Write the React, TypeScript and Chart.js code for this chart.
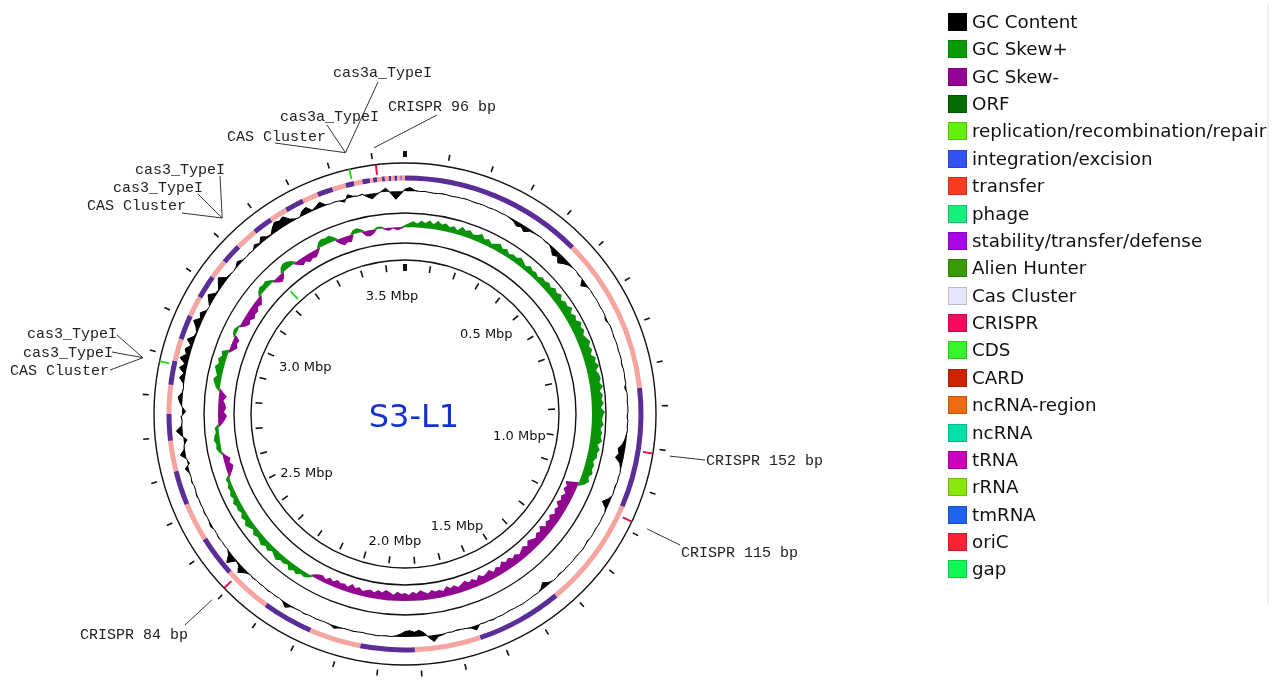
import React, { useEffect, useRef } from 'react';
import { Chart, registerables } from 'chart.js';

Chart.register(...registerables);

// ------------------------------------------------------------------ data
const genomeLengthKb = 3675;
const windowKb = 12.5;
const mapTitle = 'S3-L1';

// GC content deviation from genome mean (%), one value per 12.5 kb window
const gcContentDeviation = [
  1, 2, 0.5, 0, 0.25, 0, -0.25, 0, 0.25, 0,
  -0.25, 0, 0, 0.25, 0, -0.25, 0, 0, -0.25, 0,
  0, -0.25, 0, -0.5, -1, -2.5, -1.5, -3, -1, -0.5,
  -0.25, 0, -0.5, -0.25, -1.5, -3.5, -2, -4.5, -2.5, -1,
  -0.25, 0, -0.5, 0, -3, -0.5, 0, -0.25, 0, 0,
  -0.25, 0, 0, -1, 0, 0.25, 0, -0.25, 0, 0,
  -0.25, 0, 0, -0.5, 0, 0, -0.25, 0, -1, 0,
  0, -0.25, 0, 0, -0.5, 0, -0.25, 0, -0.5, -1,
  -2, -4, -3, -4.5, -1.5, -0.5, 0, -0.25, 0, -0.5,
  -0.25, 0, -1.5, -4, -1, 0, -0.25, 0, 0, -0.25,
  0, 0, -0.5, 0, 0.25, 0, -0.25, 0, 0, -0.25,
  0, -0.5, 0, 0, -1, -3, -1, 0, -0.25, 0,
  0, 0.25, 0, 0, -0.25, 0, 0.25, 0, 0.5, 0,
  0.25, 0, 2.5, 0.5, 0, -0.25, -0.5, 0, -0.25, 0.5,
  1, 3.5, 1, -2, -3.5, -2.5, -3.5, -3, -1.5, -0.5,
  0, -0.25, 0, 0.25, 0, 0, -0.25, 0, 0.25, 0,
  0, 0.5, 1.5, 0.25, 0, 0, 0.25, 0, 0, 0.5,
  0, 0.25, 0.5, 2.5, 0.5, 0, 0.25, 0, 0.5, 0,
  0.25, 0, 0.5, 0, 1.5, 4, 1, 0.5, 5, 1.5,
  0, 0.25, 0, 0.5, 0, 0, 1, 0.25, 0, 0.5,
  0, 0.25, 0, 0.5, 0, -0.25, 0.5, 0, 0.25, 2,
  -1, 0, 3, 0.5, 0, -2, 1, 3.5, 0.5, 0,
  0.5, -2, 0, 1.5, 2.5, 0.5, 0, 0.5, 3, 1,
  4, 1.5, 5, 2, 3.5, 1, 4, 1, 0.5, 2,
  4.5, 1.5, 3, 0.5, 0, 2, 4, 1, 0.5, 2.5,
  4.5, 1, 0.5, 0, 0.5, 2, 0.5, 0, 0.5, 0,
  2, 0.5, 3, 1, 0.5, 3, 5, 4, 5, 2,
  0.5, 0, 2.5, 3.5, 0.5, 1.5, 3, 0.5, 0, 0.25,
  0, -1.5, 2, 0.5, 0, 0.5, -1.5, -3, -1, 0.5,
  2, -1, -4.5, -2,
];

// GC skew per 12.5 kb window
const gcSkew = [
  0.02, 0.04, 0.06, 0.04, 0.07, 0.05, 0.08, 0.05, 0.09, 0.06,
  0.08, 0.05, 0.07, 0.04, 0.09, 0.06, 0.08, 0.05, 0.06, 0.09,
  0.05, 0.07, 0.04, 0.06, 0.08, 0.05, 0.07, 0.04, 0.06, 0.05,
  0.08, 0.06, 0.04, 0.07, 0.05, 0.06, 0.04, 0.07, 0.06, 0.08,
  0.06, 0.09, 0.07, 0.10, 0.06, 0.09, 0.08, 0.11, 0.07, 0.10,
  0.08, 0.12, 0.09, 0.11, 0.08, 0.10, 0.12, 0.09, 0.11, 0.08,
  0.12, 0.10, 0.13, 0.09, 0.11, 0.12, 0.10, 0.13, 0.09, 0.12,
  0.10, 0.12, 0.09, 0.13, 0.11, 0.10, 0.12, 0.09, 0.11, 0.10,
  0.12, 0.08, 0.11, 0.09, 0.10, 0.07, 0.09, 0.08, 0.10, 0.07,
  0.09, 0.06, -0.13, -0.10, -0.12, -0.08, -0.11, -0.09, -0.12, -0.08,
  -0.10, -0.07, -0.11, -0.08, -0.10, -0.07, -0.12, -0.08, -0.10, -0.07,
  -0.09, -0.11, -0.07, -0.10, -0.08, -0.06, -0.09, -0.07, -0.10, -0.08,
  -0.11, -0.07, -0.09, -0.06, -0.10, -0.08, -0.07, -0.10, -0.06, -0.09,
  -0.07, -0.10, -0.08, -0.06, -0.09, -0.07, -0.10, -0.06, -0.08, -0.07,
  -0.09, -0.06, -0.08, -0.10, -0.07, -0.09, -0.06, -0.08, -0.07, -0.09,
  -0.06, -0.08, -0.10, -0.07, -0.09, -0.06, -0.08, -0.07, -0.05, -0.08,
  -0.06, -0.09, -0.05, -0.07, -0.06, -0.08, -0.05, -0.07, -0.04, -0.06,
  -0.05, -0.03, 0.03, 0.05, 0.04, 0.07, 0.05, 0.08, 0.04, 0.06,
  0.05, 0.08, 0.06, 0.04, 0.07, 0.05, 0.08, 0.06, 0.05, 0.07,
  0.04, 0.06, 0.08, 0.05, 0.07, 0.04, 0.06, 0.05, 0.07, 0.04,
  0.06, 0.04, 0.05, 0.03, 0.04, -0.03, -0.06, -0.08, -0.05, -0.07,
  -0.03, 0.03, 0.05, 0.04, 0.06, 0.05, 0.03, 0.04, -0.04, -0.07,
  -0.09, -0.06, -0.08, -0.07, -0.05, -0.08, -0.04, 0.04, 0.06, 0.08,
  0.05, 0.07, 0.09, 0.06, 0.08, 0.05, 0.07, -0.04, -0.07, -0.05,
  -0.06, 0.03, 0.04, 0.02, -0.05, -0.08, -0.06, -0.09, -0.07, -0.08,
  -0.05, -0.07, -0.04, 0.04, 0.06, 0.05, 0.06, 0.03, -0.04, -0.07,
  -0.05, 0.05, 0.07, 0.06, 0.04, -0.04, -0.07, -0.05, -0.08, -0.06,
  -0.07, -0.04, 0.05, 0.07, 0.06, 0.07, 0.04, -0.05, -0.08, -0.06,
  -0.07, 0.04, 0.05, 0.03, -0.05, -0.06, -0.04, 0.02, 0.02, -0.02,
  -0.03, -0.01, -0.03, -0.02,
];

// contig ends (kb) along the backbone, starting at 0
const contigEndsKb = [
  461, 854, 1154, 1432, 1648, 1813, 1949, 2079, 2206, 2327,
  2430, 2527, 2613, 2690, 2756, 2829, 2889, 2945, 3007, 3059,
  3118, 3166, 3217, 3272, 3322, 3367, 3414, 3454, 3493, 3527,
  3548, 3569, 3588, 3596, 3606, 3618, 3625, 3635, 3641, 3649,
  3656, 3664, 3667, 3675,
];

const scaleTicksMbp = [
  0, 0.1, 0.2, 0.3, 0.4, 0.5, 0.6, 0.7, 0.8, 0.9,
  1.0, 1.1, 1.2, 1.3, 1.4, 1.5, 1.6, 1.7, 1.8, 1.9,
  2.0, 2.1, 2.2, 2.3, 2.4, 2.5, 2.6, 2.7, 2.8, 2.9,
  3.0, 3.1, 3.2, 3.3, 3.4, 3.5, 3.6,
];
const scaleLabelPositionsMbp = [0.5, 1.0, 1.5, 2.0, 2.5, 3.0, 3.5];
const scaleLabels = ['0.5 Mbp', '1.0 Mbp', '1.5 Mbp', '2.0 Mbp', '2.5 Mbp', '3.0 Mbp', '3.5 Mbp'];

const crisprNames = ['CRISPR 152 bp', 'CRISPR 115 bp', 'CRISPR 84 bp', 'CRISPR 96 bp'];
const crisprPositionsKb = [1011, 1178, 2308, 3607];

const casClusterPositionsKb = [2880, 3236, 3544];
const casClusterTracks = ['outer', 'inner', 'outer'];
const casClusterGenes = [
  ['cas3_TypeI', 'cas3_TypeI', 'CAS Cluster'],
  ['cas3_TypeI', 'cas3_TypeI', 'CAS Cluster'],
  ['cas3a_TypeI', 'cas3a_TypeI', 'CAS Cluster'],
];

const legendLabels = [
  'GC Content', 'GC Skew+', 'GC Skew-', 'ORF', 'replication/recombination/repair',
  'integration/excision', 'transfer', 'phage', 'stability/transfer/defense', 'Alien Hunter',
  'Cas Cluster', 'CRISPR', 'CDS', 'CARD', 'ncRNA-region', 'ncRNA', 'tRNA', 'rRNA', 'tmRNA',
  'oriC', 'gap',
];
const legendColors = [
  '#000000', '#079a07', '#960596', '#036c03', '#63f00d',
  '#3352f5', '#fa3a22', '#16f07c', '#a805e8', '#3a9a06',
  '#e6e6fa', '#f40a5f', '#36f52a', '#d02200', '#ec6b13', '#00e0a8', '#cc00bb', '#89e60b', '#1d63ee',
  '#fa2235', '#10f855',
];

// ------------------------------------------------------------------ layout / style
const CANVAS_W = 1279;
const CANVAS_H = 681;
const CENTER_X = 405;
const CENTER_Y = 414;
const RADIUS = 266;
const layoutPadding = {
  left: CENTER_X - RADIUS,
  right: CANVAS_W - CENTER_X - RADIUS,
  top: CENTER_Y - RADIUS,
  bottom: CANVAS_H - CENTER_Y - RADIUS,
};
const CLEAR = 'rgba(0,0,0,0)';
const PURPLE = '#5a2e96';
const SALMON = '#f6a4a0';
const CRISPR_COLOR = '#e0134a';
const CAS_COLOR = '#2fd62f';
const GC_BASE = 223;
const GC_SCALE = 1.8;
const SKEW_BASE = 187;
const SKEW_SCALE = 100;
const CIRCLE_RADII = [154, 171, 201, 251];
const LABEL_R = 140;
const LABEL_DX = 2;
const LABEL_DY = 5;
const LABEL_SHIFT = 12;
const ANCHOR_R = 268;

const crisprLabelLayout = [
  { x: 706, y: 461, lx: 705, ly: 460 },
  { x: 681, y: 553, lx: 680, ly: 545 },
  { x: 80, y: 635, lx: 185, ly: 625 },
  { x: 388, y: 107, lx: 437, ly: 115 },
];
const casLabelLayout = [
  [{ x: 27, y: 334, lx: 117, ly: 335 }, { x: 23, y: 353, lx: 112, ly: 352 }, { x: 10, y: 371, lx: 110, ly: 370 }],
  [{ x: 135, y: 170, lx: 220, ly: 176 }, { x: 113, y: 188, lx: 198, ly: 194 }, { x: 87, y: 206, lx: 182, ly: 213 }],
  [{ x: 333, y: 73, lx: 378, ly: 82 }, { x: 280, y: 117, lx: 327, ly: 125 }, { x: 227, y: 137, lx: 275, ly: 143 }],
];

// ------------------------------------------------------------------ helpers
type Piece = { start: number; end: number; color: string };

function kbPerPx(r: number) {
  return genomeLengthKb / (2 * Math.PI * r);
}

function markPieces(centerKb: number, widthKb: number, color: string): Piece[] {
  const s = centerKb - widthKb / 2;
  const e = centerKb + widthKb / 2;
  if (s < 0) return [{ start: 0, end: e, color }, { start: genomeLengthKb + s, end: genomeLengthKb, color }];
  if (e > genomeLengthKb) return [{ start: s, end: genomeLengthKb, color }, { start: 0, end: e - genomeLengthKb, color }];
  return [{ start: s, end: e, color }];
}

function buildRing(pieces: Piece[]) {
  const sorted = [...pieces].sort((a, b) => a.start - b.start);
  const data: number[] = [];
  const colors: string[] = [];
  let cur = 0;
  for (const p of sorted) {
    if (p.start > cur) {
      data.push(p.start - cur);
      colors.push(CLEAR);
    }
    const from = Math.max(p.start, cur);
    if (p.end > from) {
      data.push(p.end - from);
      colors.push(p.color);
      cur = p.end;
    }
  }
  if (cur < genomeLengthKb) {
    data.push(genomeLengthKb - cur);
    colors.push(CLEAR);
  }
  return { data, colors };
}

function tickPieces(r: number): Piece[] {
  const out: Piece[] = [];
  scaleTicksMbp.forEach((mbp) => {
    const w = (mbp === 0 ? 4 : 1.6) * kbPerPx(r);
    out.push(...markPieces(mbp * 1000, w, '#111'));
  });
  return out;
}

function contigPieces(): Piece[] {
  let start = 0;
  return contigEndsKb.map((end, i) => {
    const p = { start, end, color: i % 2 === 0 ? PURPLE : SALMON };
    start = end;
    return p;
  });
}

function featurePieces(track: string, r: number): Piece[] {
  const out: Piece[] = [];
  const w = 2 * kbPerPx(r);
  if (track === 'outer') {
    crisprPositionsKb.forEach((kb) => out.push(...markPieces(kb, w, CRISPR_COLOR)));
  }
  casClusterPositionsKb.forEach((kb, i) => {
    if (casClusterTracks[i] === track) out.push(...markPieces(kb, w, CAS_COLOR));
  });
  return out;
}

function doughnutConfig() {
  const rings = [
    { outer: 263, inner: 257, pieces: tickPieces(260) },
    { outer: 251, inner: 241, pieces: featurePieces('outer', 246) },
    { outer: 238.5, inner: 233.5, pieces: contigPieces() },
    { outer: 168, inner: 157, pieces: featurePieces('inner', 162) },
    { outer: 150, inner: 143, pieces: tickPieces(146.5) },
  ];
  const datasets: any[] = [];
  let prev = RADIUS;
  for (const ring of rings) {
    if (prev - ring.outer > 0.01) {
      datasets.push({ data: [1], backgroundColor: [CLEAR], weight: prev - ring.outer, borderWidth: 0, hoverBorderWidth: 0, hoverOffset: 0 });
    }
    const { data, colors } = buildRing(ring.pieces);
    datasets.push({ data, backgroundColor: colors, weight: ring.outer - ring.inner, borderWidth: 0, hoverBorderWidth: 0, hoverOffset: 0 });
    prev = ring.inner;
  }
  return { datasets, cutout: prev };
}

const angleOf = (kb: number) => (kb / genomeLengthKb) * Math.PI * 2;

const textPlugin = {
  id: 'genomeText',
  afterDraw(chart: any) {
    const ctx = chart.ctx;
    const area = chart.chartArea;
    const cx = (area.left + area.right) / 2;
    const cy = (area.top + area.bottom) / 2;
    ctx.save();

    // scale labels
    ctx.font = '13px "DejaVu Sans"';
    ctx.fillStyle = '#111';
    ctx.textBaseline = 'middle';
    scaleLabelPositionsMbp.forEach((mbp, i) => {
      const a = angleOf(mbp * 1000);
      const s = Math.sin(a);
      const c = Math.cos(a);
      ctx.textAlign = s > 0 ? 'right' : 'left';
      ctx.fillText(scaleLabels[i], cx + LABEL_DX + s * LABEL_R, cy + LABEL_DY - c * LABEL_R + c * LABEL_SHIFT);
    });

    // title
    ctx.font = '32px "DejaVu Sans"';
    ctx.fillStyle = '#1433cc';
    ctx.textAlign = 'center';
    ctx.fillText(mapTitle, cx + 9, cy + 5);

    // annotations
    const anchor = (kb: number) => {
      const a = angleOf(kb);
      return { x: cx + Math.sin(a) * ANCHOR_R, y: cy - Math.cos(a) * ANCHOR_R };
    };
    ctx.strokeStyle = '#333';
    ctx.lineWidth = 1;
    crisprPositionsKb.forEach((kb, i) => {
      const p = anchor(kb);
      const l = crisprLabelLayout[i];
      ctx.beginPath();
      ctx.moveTo(l.lx, l.ly);
      ctx.lineTo(p.x, p.y);
      ctx.stroke();
    });
    casClusterPositionsKb.forEach((kb, i) => {
      const p = anchor(kb);
      casLabelLayout[i].forEach((l) => {
        ctx.beginPath();
        ctx.moveTo(l.lx, l.ly);
        ctx.lineTo(p.x, p.y);
        ctx.stroke();
      });
    });
    ctx.font = '15px "Liberation Mono"';
    ctx.fillStyle = '#222';
    ctx.textAlign = 'left';
    ctx.textBaseline = 'middle';
    crisprNames.forEach((name, i) => {
      const l = crisprLabelLayout[i];
      ctx.fillText(name, l.x, l.y);
    });
    casClusterGenes.forEach((genes, i) => {
      genes.forEach((g, j) => {
        const l = casLabelLayout[i][j];
        ctx.fillText(g, l.x, l.y);
      });
    });
    ctx.restore();
  },
};

// ------------------------------------------------------------------ component
export default function App() {
  const radarRef = useRef<HTMLCanvasElement | null>(null);
  const ringRef = useRef<HTMLCanvasElement | null>(null);

  useEffect(() => {
    const windowLabels = gcContentDeviation.map((_, i) => i * windowKb);
    const radar = new Chart(radarRef.current as HTMLCanvasElement, {
      type: 'radar',
      data: {
        labels: windowLabels,
        datasets: [
          {
            label: 'GC Content',
            data: gcContentDeviation.map((v) => GC_BASE + v * GC_SCALE),
            borderColor: '#000',
            backgroundColor: '#000',
            borderWidth: 1,
            fill: { value: GC_BASE },
            pointRadius: 0,
          },
          {
            label: 'GC Skew+',
            data: gcSkew.map((v) => SKEW_BASE + Math.max(0, v) * SKEW_SCALE),
            borderColor: CLEAR,
            backgroundColor: '#0a940a',
            borderWidth: 0,
            fill: { value: SKEW_BASE },
            pointRadius: 0,
          },
          {
            label: 'GC Skew-',
            data: gcSkew.map((v) => SKEW_BASE + Math.min(0, v) * SKEW_SCALE),
            borderColor: CLEAR,
            backgroundColor: '#920792',
            borderWidth: 0,
            fill: { value: SKEW_BASE },
            pointRadius: 0,
          },
        ] as any,
      },
      options: {
        responsive: false,
        animation: false,
        devicePixelRatio: 1,
        events: [],
        layout: { padding: layoutPadding },
        plugins: { legend: { display: false }, tooltip: { enabled: false } },
        elements: { line: { tension: 0 }, point: { radius: 0 } },
        scales: {
          r: {
            min: 0,
            max: RADIUS,
            ticks: { display: false },
            pointLabels: { display: false },
            angleLines: { display: false },
            grid: { circular: true, color: '#111', lineWidth: 1.4 },
            afterBuildTicks: (scale: any) => {
              scale.ticks = [0, ...CIRCLE_RADII].map((v) => ({ value: v }));
            },
          } as any,
        },
      } as any,
    });

    const dc = doughnutConfig();
    const ring = new Chart(ringRef.current as HTMLCanvasElement, {
      type: 'doughnut',
      data: { datasets: dc.datasets },
      options: {
        responsive: false,
        animation: false,
        devicePixelRatio: 1,
        events: [],
        cutout: dc.cutout,
        rotation: 0,
        circumference: 360,
        layout: { padding: layoutPadding },
        plugins: { legend: { display: false }, tooltip: { enabled: false } },
        elements: { arc: { borderWidth: 0, hoverBorderWidth: 0 } },
      } as any,
      plugins: [textPlugin],
    });

    return () => {
      radar.destroy();
      ring.destroy();
    };
  }, []);

  const canvasStyle: React.CSSProperties = { position: 'absolute', left: 0, top: 0, display: 'block' };

  return (
    <div style={{ position: 'absolute', left: 0, top: 0, width: CANVAS_W, height: CANVAS_H, background: '#fff', overflow: 'hidden' }}>
      <canvas ref={radarRef} width={CANVAS_W} height={CANVAS_H} style={canvasStyle} />
      <canvas ref={ringRef} width={CANVAS_W} height={CANVAS_H} style={canvasStyle} />
      <div style={{ position: 'absolute', left: 1267, top: 4, width: 2, height: 600, background: '#f1f1f1' }} />
      {legendLabels.map((label, i) => {
        const cy = 21 + i * 27.37;
        return (
          <div
            key={label}
            style={{ position: 'absolute', left: 948, top: cy - 10, height: 22, display: 'flex', alignItems: 'center', whiteSpace: 'nowrap' }}
          >
            <span
              style={{
                display: 'inline-block',
                width: 19,
                height: 18,
                boxSizing: 'border-box',
                background: legendColors[i],
                border: '1px solid rgba(0,0,0,0.18)',
                marginRight: 5,
              }}
            />
            <span style={{ font: '18.3px "DejaVu Sans"', color: '#111', lineHeight: '22px' }}>{label}</span>
          </div>
        );
      })}
    </div>
  );
}
